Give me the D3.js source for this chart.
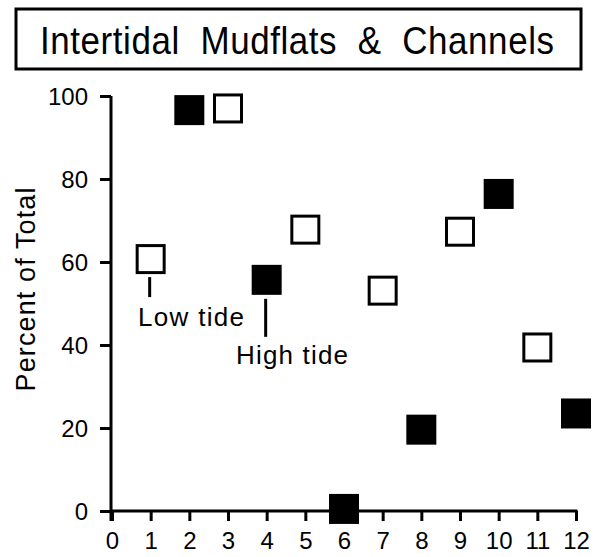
<!DOCTYPE html>
<html>
<head>
<meta charset="utf-8">
<script src="https://cdn.jsdelivr.net/npm/d3@7/dist/d3.min.js"></script>
<style>
  html, body { margin: 0; padding: 0; background: #fff; }
  svg { display: block; }
  text { font-family: "Liberation Sans", Arial, Helvetica, sans-serif; fill: #000; }
</style>
</head>
<body>
<svg id="chart" width="597" height="557"></svg>
<script>
const title = "Intertidal  Mudflats  &  Channels";
const yLabel = "Percent of Total";
const xTicks = [0, 1, 2, 3, 4, 5, 6, 7, 8, 9, 10, 11, 12];
const yTicks = [0, 20, 40, 60, 80, 100];

const lowTideX = [1, 3, 5, 7, 9, 11];
const lowTideY = [60.7, 97, 67.8, 53.1, 67.3, 39.4];
const highTideX = [2, 4, 6, 8, 10, 12];
const highTideY = [96.6, 55.7, 0.5, 19.6, 76.4, 23.5];

const lowLabel = "Low tide";
const highLabel = "High tide";

const svg = d3.select("#chart");

const x = d3.scaleLinear().domain([0, 12]).range([112, 576]);
const y = d3.scaleLinear().domain([0, 100]).range([511, 96]);

// Title box
svg.append("rect")
  .attr("x", 16).attr("y", 9).attr("width", 565).attr("height", 60)
  .attr("fill", "none").attr("stroke", "#000").attr("stroke-width", 3);
svg.append("text")
  .attr("transform", "translate(40,54) scale(1,1.12)")
  .attr("font-size", 35)
  .attr("xml:space", "preserve")
  .style("white-space", "pre")
  .attr("textLength", 514).attr("lengthAdjust", "spacing")
  .text(title);

// Axes
const yAxis = d3.axisLeft(y).tickValues(yTicks).tickSize(11).tickSizeOuter(0).tickPadding(12);
const xAxis = d3.axisBottom(x).tickValues(xTicks).tickSize(10).tickSizeOuter(0).tickPadding(10);

const gy = svg.append("g").attr("transform", `translate(${x(0) - 1},0)`).call(yAxis);
const gx = svg.append("g").attr("transform", `translate(0,${y(0)})`).call(xAxis);

[gy, gx].forEach(g => {
  g.select(".domain").attr("stroke", "#000").attr("stroke-width", 3);
  g.selectAll(".tick line").attr("stroke", "#000").attr("stroke-width", 3);
  g.selectAll(".tick text").attr("font-size", 24).attr("font-family", "Liberation Sans, Arial, sans-serif").attr("fill", "#000");
});
gy.selectAll(".tick text").attr("dy", "0.36em");
gx.selectAll(".tick text").attr("dy", "0.75em");
gy.select(".domain").attr("d", `M0,${y(100)}V${y(0) + 10}`);
gx.select(".domain").attr("d", `M${x(0) - 2},0H${x(12) + 1.5}`);

// Y label
svg.append("text")
  .attr("transform", `translate(35,${(y(0) + y(100)) / 2 - 14}) rotate(-90)`)
  .attr("text-anchor", "middle")
  .attr("font-size", 27)
  .attr("textLength", 204).attr("lengthAdjust", "spacing")
  .text(yLabel);

// Markers
const S = 30;
const low = lowTideX.map((d, i) => ({ x: d, y: lowTideY[i] }));
const high = highTideX.map((d, i) => ({ x: d, y: highTideY[i] }));

svg.append("g").selectAll("rect").data(high).join("rect")
  .attr("x", d => x(d.x) - S / 2).attr("y", d => y(d.y) - S / 2)
  .attr("width", S).attr("height", S).attr("fill", "#000");

svg.append("g").selectAll("rect").data(low).join("rect")
  .attr("x", d => x(d.x) - (S - 3) / 2).attr("y", d => y(d.y) - (S - 3) / 2)
  .attr("width", S - 3).attr("height", S - 3)
  .attr("fill", "#fff").attr("stroke", "#000").attr("stroke-width", 3);

// Annotations
const lowPt = low[0];
const highPt = high[1];
svg.append("line")
  .attr("x1", x(lowPt.x) - 1).attr("x2", x(lowPt.x) - 1)
  .attr("y1", y(lowPt.y) + 18).attr("y2", y(lowPt.y) + 38)
  .attr("stroke", "#000").attr("stroke-width", 3);
svg.append("text")
  .attr("x", 138).attr("y", 326).attr("font-size", 26)
  .attr("textLength", 106).attr("lengthAdjust", "spacing")
  .text(lowLabel);

svg.append("line")
  .attr("x1", x(highPt.x) - 1).attr("x2", x(highPt.x) - 1)
  .attr("y1", y(highPt.y) + 19).attr("y2", y(highPt.y) + 57)
  .attr("stroke", "#000").attr("stroke-width", 3);
svg.append("text")
  .attr("x", 236).attr("y", 364).attr("font-size", 26)
  .attr("textLength", 112).attr("lengthAdjust", "spacing")
  .text(highLabel);
</script>
</body>
</html>
